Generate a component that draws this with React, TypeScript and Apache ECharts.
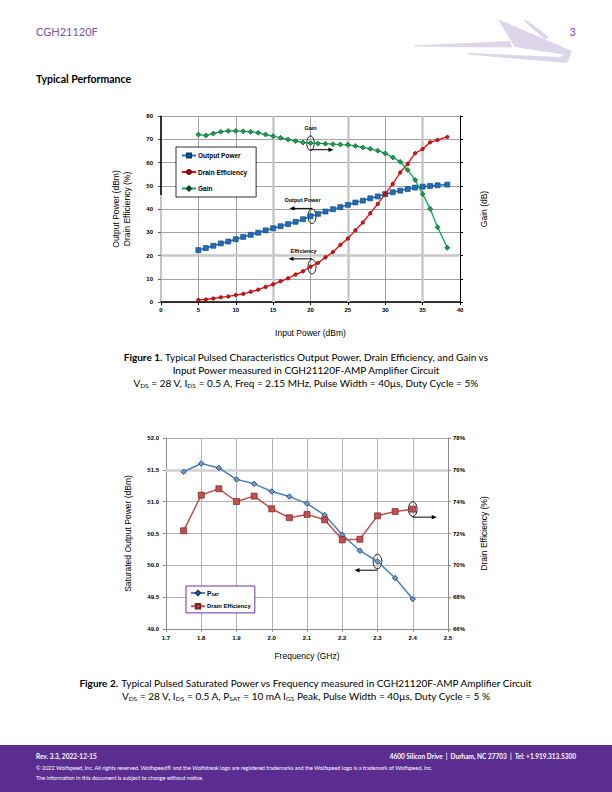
import React, { useEffect, useRef } from "react";
import * as echarts from "echarts";

// ---------- Figure 1 data ----------
const inputPower = [5, 6, 7, 8, 9, 10, 11, 12, 13, 14, 15, 16, 17, 18, 19, 20, 21, 22, 23, 24, 25, 26, 27, 28, 29, 30, 31, 32, 33, 34, 35, 36, 37, 38.3];
const outputPower = [22.3, 23.2, 24.2, 25.2, 26.0, 27.0, 28.0, 28.9, 29.8, 30.8, 31.7, 32.6, 33.5, 34.5, 35.6, 36.9, 37.9, 38.9, 39.9, 40.8, 41.8, 42.8, 43.6, 44.6, 45.4, 46.4, 47.2, 47.9, 48.6, 49.2, 49.6, 49.9, 50.2, 50.5];
const drainEfficiency = [0.85, 1.1, 1.5, 2.0, 2.4, 3.0, 3.5, 4.4, 5.3, 6.5, 7.6, 8.9, 10.2, 11.8, 13.2, 15.2, 16.8, 19.2, 21.5, 24.6, 27.3, 30.8, 34.2, 38.2, 42.2, 46.5, 50.8, 55.7, 59.4, 64.0, 65.8, 68.7, 69.7, 71.0];
const gain = [72.0, 71.6, 72.5, 73.2, 73.6, 73.6, 73.4, 73.2, 72.8, 72.0, 71.3, 70.6, 69.9, 69.2, 68.6, 68.3, 68.2, 68.1, 67.9, 67.7, 67.6, 67.1, 66.5, 65.9, 65.1, 63.9, 62.2, 60.3, 56.8, 52.5, 46.5, 40.1, 32.2, 23.3];
const fig1XTicks = [0, 5, 10, 15, 20, 25, 30, 35, 40];
const fig1YTicks = [0, 10, 20, 30, 40, 50, 60, 70, 80];
const fig1Legend = ["Output Power", "Drain Efficiency", "Gain"];

// ---------- Figure 2 data ----------
const frequency = [1.75, 1.8, 1.85, 1.9, 1.95, 2.0, 2.05, 2.1, 2.15, 2.2, 2.25, 2.3, 2.35, 2.4];
const pSat = [51.47, 51.6, 51.53, 51.35, 51.28, 51.16, 51.08, 50.97, 50.79, 50.48, 50.23, 50.06, 49.8, 49.47];
const drainEff2 = [72.17, 74.41, 74.81, 74.01, 74.35, 73.55, 72.99, 73.2, 72.86, 71.6, 71.64, 73.11, 73.38, 73.53];
const fig2XTicks = [1.7, 1.8, 1.9, 2.0, 2.1, 2.2, 2.3, 2.4, 2.5];
const fig2YTicks = [49.0, 49.5, 50.0, 50.5, 51.0, 51.5, 52.0];
const fig2Y2Ticks = [66, 68, 70, 72, 74, 76, 78];
const fig2Legend = ["PSAT", "Drain Efficiency"];

const CHART_FONT = '"Liberation Sans", Arial, sans-serif';
const PAGE_FONT = 'Lato, "Open Sans", sans-serif';
const PURPLE = "#5c2d91";

function arrow(x1: number, y: number, x2: number) {
  const dir = Math.sign(x2 - x1);
  const hl = 5;
  const hw = 2.2;
  return [
    { type: "line", shape: { x1, y1: y, x2: x2 - dir * hl * 0.7, y2: y }, style: { stroke: "#000", lineWidth: 1 } },
    { type: "polygon", shape: { points: [[x2, y], [x2 - dir * hl, y - hw], [x2 - dir * hl, y + hw]] }, style: { fill: "#000" } },
  ];
}
function ring(cx: number, cy: number, rx: number, ry: number) {
  return { type: "ellipse", shape: { cx, cy, rx, ry }, style: { fill: "none", stroke: "#000", lineWidth: 0.9 } };
}
function label(x: number, y: number, text: string) {
  return { type: "text", x, y, style: { text, fontSize: 5.5, fontWeight: "bold", fontFamily: CHART_FONT, fill: "#000", align: "center", verticalAlign: "middle" } };
}

function bgOption() {
  const capRich = {
    b: { fontWeight: "bold", fontSize: 10, fontFamily: PAGE_FONT, fill: "#000", lineHeight: 12 },
    s: { fontSize: 6.5, fontFamily: PAGE_FONT, fill: "#000", verticalAlign: "bottom", lineHeight: 11 },
  };
  const cap = (y: number, text: string) => ({
    type: "text",
    x: 306,
    y,
    style: { text, rich: capRich, fontSize: 10, fontFamily: PAGE_FONT, fill: "#000", align: "center", verticalAlign: "middle", lineHeight: 12 },
  });
  const logoFill = "#ddd5ea";
  return {
    animation: false,
    graphic: [
      { type: "text", x: 36, y: 31, style: { text: "CGH21120F", fill: "#7a52a6", fontSize: 11, fontFamily: PAGE_FONT, verticalAlign: "middle" } },
      { type: "text", x: 576, y: 31, style: { text: "3", fill: "#7a52a6", fontSize: 11, fontFamily: PAGE_FONT, align: "right", verticalAlign: "middle" } },
      { type: "polygon", shape: { points: [[414, 45.6], [510, 41], [512, 47.5], [414, 46.6]] }, style: { fill: logoFill } },
      { type: "polygon", shape: { points: [[498, 19.5], [507, 23], [572, 51], [566, 55], [515, 47]] }, style: { fill: logoFill } },
      { type: "polygon", shape: { points: [[523, 20], [528, 21], [549, 37], [545, 39.5]] }, style: { fill: logoFill } },
      { type: "polygon", shape: { points: [[468, 53], [560, 57], [572, 51], [567, 63], [468, 54.6]] }, style: { fill: logoFill } },
      { type: "text", x: 36, y: 79, style: { text: "Typical Performance", fill: "#000", fontSize: 10.5, fontWeight: "bold", fontFamily: PAGE_FONT, verticalAlign: "middle" } },
      cap(357, "{b|Figure 1.} Typical Pulsed Characteristics Output Power, Drain Efficiency, and Gain vs"),
      cap(370, "Input Power measured in CGH21120F-AMP Amplifier Circuit"),
      cap(383, "V{s|DS} = 28 V, I{s|DS} = 0.5 A, Freq = 2.15 MHz, Pulse Width = 40µs, Duty Cycle = 5%"),
      cap(683, "{b|Figure 2.} Typical Pulsed Saturated Power vs Frequency measured in CGH21120F-AMP Amplifier Circuit"),
      cap(696, "V{s|DS} = 28 V, I{s|DS} = 0.5 A, P{s|SAT} = 10 mA I{s|GS} Peak, Pulse Width = 40µs, Duty Cycle = 5 %"),
      { type: "rect", shape: { x: 0, y: 745, width: 612, height: 47 }, style: { fill: PURPLE } },
      { type: "text", x: 36, y: 756, style: { text: "Rev. 3.3, 2022-12-15", fill: "#fff", fontSize: 6.5, fontWeight: "bold", fontFamily: PAGE_FONT, verticalAlign: "middle" } },
      { type: "text", x: 576, y: 756, style: { text: "4600 Silicon Drive  |  Durham, NC 27703  |  Tel: +1.919.313.5300", fill: "#fff", fontSize: 6.5, fontWeight: "bold", fontFamily: PAGE_FONT, align: "right", verticalAlign: "middle" } },
      { type: "text", x: 36, y: 768, style: { text: "© 2022 Wolfspeed, Inc. All rights reserved. Wolfspeed® and the Wolfstreak logo are registered trademarks and the Wolfspeed logo is a trademark of Wolfspeed, Inc.", fill: "#fff", fontSize: 5.5, fontFamily: PAGE_FONT, verticalAlign: "middle" } },
      { type: "text", x: 36, y: 778, style: { text: "The information in this document is subject to change without notice.", fill: "#fff", fontSize: 5.5, fontFamily: PAGE_FONT, verticalAlign: "middle" } },
    ],
  };
}

function fig1Option() {
  const tickLabel = { fontSize: 6, fontWeight: "bold", color: "#000", fontFamily: CHART_FONT };
  const nameStyle = { fontSize: 8.5, color: "#000", fontFamily: CHART_FONT, lineHeight: 11.5 };
  const xMin = fig1XTicks[0], xMax = fig1XTicks[fig1XTicks.length - 1];
  const yMin = fig1YTicks[0], yMax = fig1YTicks[fig1YTicks.length - 1];
  return {
    animation: false,
    textStyle: { fontFamily: CHART_FONT },
    grid: { left: 161, top: 116, width: 299, height: 186 },
    xAxis: {
      type: "value", min: xMin, max: xMax, interval: fig1XTicks[1] - fig1XTicks[0],
      axisLine: { lineStyle: { color: "#000", width: 1.5 } },
      axisTick: { show: true, length: 3, lineStyle: { color: "#000" } },
      axisLabel: { ...tickLabel, margin: 5 },
      splitLine: { show: true, lineStyle: { color: "#8a8a8a", width: 0.8 } },
      name: "Input Power (dBm)", nameLocation: "middle", nameGap: 25, nameTextStyle: nameStyle,
    },
    yAxis: [
      {
        type: "value", min: yMin, max: yMax, interval: fig1YTicks[1] - fig1YTicks[0],
        axisLine: { show: true, lineStyle: { color: "#c4c4c4", width: 2 } },
        axisTick: { show: true, length: 3, lineStyle: { color: "#555" } },
        axisLabel: { ...tickLabel, margin: 8 },
        splitLine: { show: true, lineStyle: { color: "#8a8a8a", width: 0.8 } },
        name: "Output Power (dBm)\nDrain Efficiency (%)", nameLocation: "middle", nameGap: 28, nameRotate: 90, nameTextStyle: nameStyle,
      },
      {
        type: "value", min: yMin, max: yMax, interval: fig1YTicks[1] - fig1YTicks[0], position: "right",
        axisLine: { show: true, lineStyle: { color: "#000", width: 1 } },
        axisTick: { show: true, length: 3, lineStyle: { color: "#000" } },
        axisLabel: { show: false },
        splitLine: { show: false },
        name: "Gain (dB)", nameLocation: "middle", nameGap: 18, nameRotate: 90, nameTextStyle: nameStyle,
      },
    ],
    legend: {
      left: 176, top: 147, orient: "vertical", itemGap: 9.5, itemWidth: 14, itemHeight: 5,
      backgroundColor: "#fff", borderColor: "#000", borderWidth: 0.8, borderRadius: 0, padding: [5, 9, 5, 5],
      textStyle: { fontSize: 6.5, fontWeight: "bold", color: "#000", fontFamily: CHART_FONT, padding: [0, 0, 0, -3] },
      data: fig1Legend,
    },
    series: [
      {
        name: "grid-accents", type: "line", data: [], silent: true,
        markLine: {
          silent: true, symbol: "none", z: 1, label: { show: false }, animation: false,
          lineStyle: { color: "#c8c8c8", width: 2.5, type: "solid" },
          data: [
            { xAxis: fig1XTicks[3] }, { xAxis: fig1XTicks[5] }, { xAxis: fig1XTicks[7] }, { yAxis: fig1YTicks[2] },
            [{ coord: [xMin, yMax], lineStyle: { color: "#000", width: 1.5 } }, { coord: [xMin, 46] }],
          ],
        },
      },
      {
        name: fig1Legend[0], type: "line", z: 3, xAxisIndex: 0, yAxisIndex: 0,
        data: inputPower.map((x, i) => [x, outputPower[i]]),
        symbol: "rect", symbolSize: 5,
        itemStyle: { color: "#1f6fc0", borderColor: "#0d3a66", borderWidth: 0.6 },
        lineStyle: { color: "#1f6fc0", width: 1.5 },
      },
      {
        name: fig1Legend[1], type: "line", z: 4, xAxisIndex: 0, yAxisIndex: 0,
        data: inputPower.map((x, i) => [x, drainEfficiency[i]]),
        symbol: "circle", symbolSize: 3.5,
        itemStyle: { color: "#d01818", borderColor: "#6a0000", borderWidth: 0.6 },
        lineStyle: { color: "#ff0000", width: 1.3 },
      },
      {
        name: fig1Legend[2], type: "line", z: 4, xAxisIndex: 0, yAxisIndex: 1,
        data: inputPower.map((x, i) => [x, gain[i]]),
        symbol: "diamond", symbolSize: 5,
        itemStyle: { color: "#1aa04a", borderColor: "#0a3d1a", borderWidth: 0.6 },
        lineStyle: { color: "#00b050", width: 1.3 },
      },
    ],
  };
}

function fig1Annotations(chart: any) {
  const i = inputPower.indexOf(20);
  const g = chart.convertToPixel({ xAxisIndex: 0, yAxisIndex: 1 }, [inputPower[i], gain[i]]);
  const o = chart.convertToPixel({ xAxisIndex: 0, yAxisIndex: 0 }, [inputPower[i], outputPower[i]]);
  const e = chart.convertToPixel({ xAxisIndex: 0, yAxisIndex: 0 }, [inputPower[i], drainEfficiency[i]]);
  return [
    label(g[0], g[1] - 15, "Gain"),
    ring(g[0], g[1], 3.7, 7.3),
    ...arrow(g[0], g[1] + 6.5, g[0] + 23),
    label(o[0] - 8, o[1] - 16, "Output Power"),
    ring(o[0] + 1.5, o[1], 4, 7.3),
    ...arrow(o[0] + 1.5, o[1] - 7.8, o[0] - 21),
    label(o[0] - 7, e[1] - 15.5, "Efficiency"),
    ring(e[0] + 1.5, e[1], 4, 7.3),
    ...arrow(e[0] + 1.5, e[1] - 7.8, e[0] - 22),
  ];
}

function fig2Option() {
  const tickLabel = { fontSize: 6, fontWeight: "bold", color: "#000", fontFamily: CHART_FONT };
  const nameStyle = { fontSize: 8.5, color: "#000", fontFamily: CHART_FONT };
  const gray = "#8c8c8c";
  return {
    animation: false,
    textStyle: { fontFamily: CHART_FONT },
    grid: { left: 166, top: 438, width: 282, height: 191 },
    xAxis: {
      type: "value", min: fig2XTicks[0], max: fig2XTicks[fig2XTicks.length - 1], interval: 0.1,
      axisLine: { lineStyle: { color: gray, width: 1 } },
      axisTick: { show: true, length: 3, lineStyle: { color: gray } },
      axisLabel: { ...tickLabel, margin: 6, formatter: (v: number) => v.toFixed(1) },
      splitLine: { show: true, lineStyle: { color: "#a0a0a0", width: 0.8 } },
      name: "Frequency (GHz)", nameLocation: "middle", nameGap: 22, nameTextStyle: nameStyle,
    },
    yAxis: [
      {
        type: "value", min: fig2YTicks[0], max: fig2YTicks[fig2YTicks.length - 1], interval: 0.5,
        axisLine: { show: true, lineStyle: { color: gray, width: 1 } },
        axisTick: { show: true, length: 3, lineStyle: { color: gray } },
        axisLabel: { ...tickLabel, margin: 7, formatter: (v: number) => v.toFixed(1) },
        splitLine: { show: true, lineStyle: { color: "#a0a0a0", width: 0.8 } },
        name: "Saturated Output Power (dBm)", nameLocation: "middle", nameGap: 34, nameRotate: 90, nameTextStyle: nameStyle,
      },
      {
        type: "value", min: fig2Y2Ticks[0], max: fig2Y2Ticks[fig2Y2Ticks.length - 1], interval: 2, position: "right",
        axisLine: { show: true, lineStyle: { color: gray, width: 1 } },
        axisTick: { show: true, length: 3, lineStyle: { color: gray } },
        axisLabel: { ...tickLabel, margin: 5, formatter: (v: number) => v + "%" },
        splitLine: { show: false },
        name: "Drain Efficiency (%)", nameLocation: "middle", nameGap: 31, nameRotate: 90, nameTextStyle: nameStyle,
      },
    ],
    legend: {
      left: 186, top: 586, orient: "vertical", itemGap: 6.5, itemWidth: 14, itemHeight: 5.5,
      backgroundColor: "#fff", borderColor: "#7030a0", borderWidth: 1, borderRadius: 0, padding: [3.5, 4, 3.5, 4],
      textStyle: {
        fontSize: 5.8, fontWeight: "bold", color: "#000", fontFamily: CHART_FONT, padding: [0, 0, 0, -3],
        rich: {
          p: { fontSize: 6.5, fontWeight: "bold", color: "#000", fontFamily: CHART_FONT },
          s: { fontSize: 4, fontWeight: "bold", color: "#000", fontFamily: CHART_FONT, verticalAlign: "bottom" },
        },
      },
      formatter: (n: string) => (n === "PSAT" ? "{p|P}{s|SAT}" : n),
      data: fig2Legend,
    },
    series: [
      {
        name: "grid-accents", type: "line", data: [], silent: true,
        markLine: {
          silent: true, symbol: "none", z: 1, label: { show: false }, animation: false,
          lineStyle: { color: "#d0d0d0", width: 2.5, type: "solid" },
          data: [{ yAxis: fig2YTicks[5] }],
        },
      },
      {
        name: fig2Legend[0], type: "line", z: 3, xAxisIndex: 0, yAxisIndex: 0,
        data: frequency.map((x, i) => [x, pSat[i]]),
        symbol: "diamond", symbolSize: 5.5,
        itemStyle: { color: "#6f9ad0", borderColor: "#1d3a6b", borderWidth: 0.8 },
        lineStyle: { color: "#4a7ebb", width: 1.5 },
      },
      {
        name: fig2Legend[1], type: "line", z: 3, xAxisIndex: 0, yAxisIndex: 1,
        data: frequency.map((x, i) => [x, drainEff2[i]]),
        symbol: "rect", symbolSize: 6,
        itemStyle: { color: "#c0504d", borderColor: "#7a2421", borderWidth: 0.7 },
        lineStyle: { color: "#c0504d", width: 1.5 },
      },
    ],
  };
}

function fig2Annotations(chart: any) {
  const a = frequency.length - 1;
  const b = frequency.indexOf(2.3);
  const d = chart.convertToPixel({ xAxisIndex: 0, yAxisIndex: 1 }, [frequency[a], drainEff2[a]]);
  const p = chart.convertToPixel({ xAxisIndex: 0, yAxisIndex: 0 }, [frequency[b], pSat[b]]);
  return [
    ring(d[0], d[1], 4.3, 7.3),
    ...arrow(d[0], d[1] + 8, d[0] + 24),
    ring(p[0], p[1], 4.3, 7.3),
    ...arrow(p[0], p[1] + 8.7, p[0] - 23),
  ];
}

export default function App() {
  const bgRef = useRef<HTMLDivElement>(null);
  const c1Ref = useRef<HTMLDivElement>(null);
  const c2Ref = useRef<HTMLDivElement>(null);
  useEffect(() => {
    document.body.style.margin = "0";
    const bg = echarts.init(bgRef.current!, null, { renderer: "svg" });
    bg.setOption(bgOption() as any);
    const c1 = echarts.init(c1Ref.current!, null, { renderer: "svg" });
    c1.setOption(fig1Option() as any);
    c1.setOption({ graphic: fig1Annotations(c1) } as any);
    const c2 = echarts.init(c2Ref.current!, null, { renderer: "svg" });
    c2.setOption(fig2Option() as any);
    c2.setOption({ graphic: fig2Annotations(c2) } as any);
    return () => {
      bg.dispose();
      c1.dispose();
      c2.dispose();
    };
  }, []);
  const layer: React.CSSProperties = { position: "absolute", left: 0, top: 0, width: 612, height: 792 };
  return (
    <div style={{ position: "relative", width: 612, height: 792, background: "#fff" }}>
      <div ref={bgRef} style={layer} />
      <div ref={c1Ref} style={layer} />
      <div ref={c2Ref} style={layer} />
    </div>
  );
}
